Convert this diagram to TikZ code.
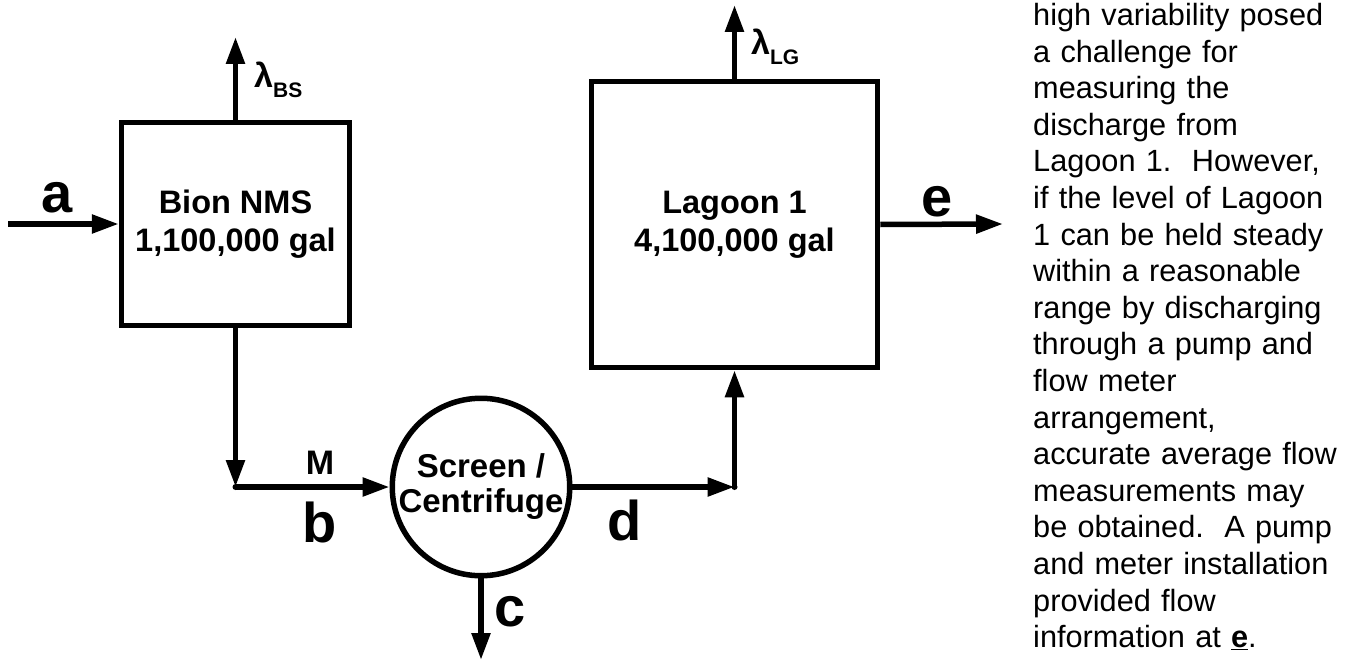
\documentclass[tikz,border=0pt]{standalone}
\usepackage{fontspec}
\setmainfont{Liberation Sans}
\usetikzlibrary{arrows.meta}
\begin{document}
\begin{tikzpicture}[x=1pt,y=-1pt,
  flow/.style={line width=5.5pt,-{Triangle[length=27pt,width=18pt]}},
  unit/.style={draw,line width=5.5pt,align=center,inner sep=0pt,
    font=\fontsize{32.5}{38}\selectfont\bfseries},
  biglbl/.style={inner sep=0pt,font=\fontsize{56}{60}\selectfont\bfseries},
  midlbl/.style={inner sep=0pt,font=\fontsize{34}{38}\selectfont\bfseries},
  dotj/.style={fill,circle,inner sep=0pt,minimum size=6pt}]
\useasboundingbox (0,0) rectangle (1363,661);
% units
\node[unit,rectangle,minimum width=228pt,minimum height=203pt] (bion) at (235.5,224) {Bion NMS\\1,100,000 gal};
\node[unit,rectangle,minimum width=286pt,minimum height=286pt] (lagoon) at (734.5,224.5) {Lagoon 1\\4,100,000 gal};
\node[unit,circle,minimum size=175pt,font=\fontsize{33}{35}\selectfont\bfseries] (sc) at (481,487) {Screen /\\Centrifuge};
% free ends and junctions
\coordinate (ain) at (8,224);
\coordinate (lbs) at (235.5,37);
\coordinate (llg) at (734.5,5);
\coordinate (eout) at (1003,224);
\coordinate (cout) at (481,660);
\coordinate (jb) at (235.5,487);
\coordinate (jd) at (734.5,487);
% connectors
\draw[flow] (ain) -- (bion.west);
\draw[flow] (bion.north) -- (lbs);
\draw[flow] (lagoon.north) -- (llg);
\draw[flow] (bion.south) -- (jb);
\draw[flow] (jb) -- (sc.west);
\draw[flow] (sc.east) -- (jd);
\draw[flow] (jd) -- (lagoon.south);
\draw[flow] (sc.south) -- (cout);
\draw[flow] (lagoon.east) -- (eout);
\node[dotj] (jbdot) at (jb) {};
\node[dotj] (jddot) at (jd) {};
% labels
\node[biglbl] (la) at (57,198) {a};
\node[biglbl] (lb) at (320,522) {b};
\node[biglbl] (lc) at (510,612) {c};
\node[biglbl] (ld) at (625,520) {d};
\node[biglbl] (le) at (937,202) {e};
\node[midlbl] (lm) at (320,463) {M};
\node[midlbl,anchor=base west] (lambdabs) at (254,88) {λ\raisebox{-10pt}{\fontsize{21}{22}\selectfont BS}};
\node[midlbl,anchor=base west] (lambdalg) at (751,55) {λ\raisebox{-10pt}{\fontsize{21}{22}\selectfont LG}};
% side text
\node[anchor=base west,inner sep=0pt,text width=330pt,align=left,font=\fontsize{30.7}{36.6}\selectfont] (note) at (1033,25.6) {high variability posed\\
a challenge for\\
measuring the\\
discharge from\\
Lagoon 1.\ \ However,\\
if the level of Lagoon\\
1 can be held steady\\
within a reasonable\\
range by discharging\\
through a pump and\\
flow meter\\
arrangement,\\
accurate average flow\\
measurements may\\
be obtained.\ \ A pump\\
and meter installation\\
provided flow\\
information at \underline{\textbf{e}}.};
\end{tikzpicture}
\end{document}
